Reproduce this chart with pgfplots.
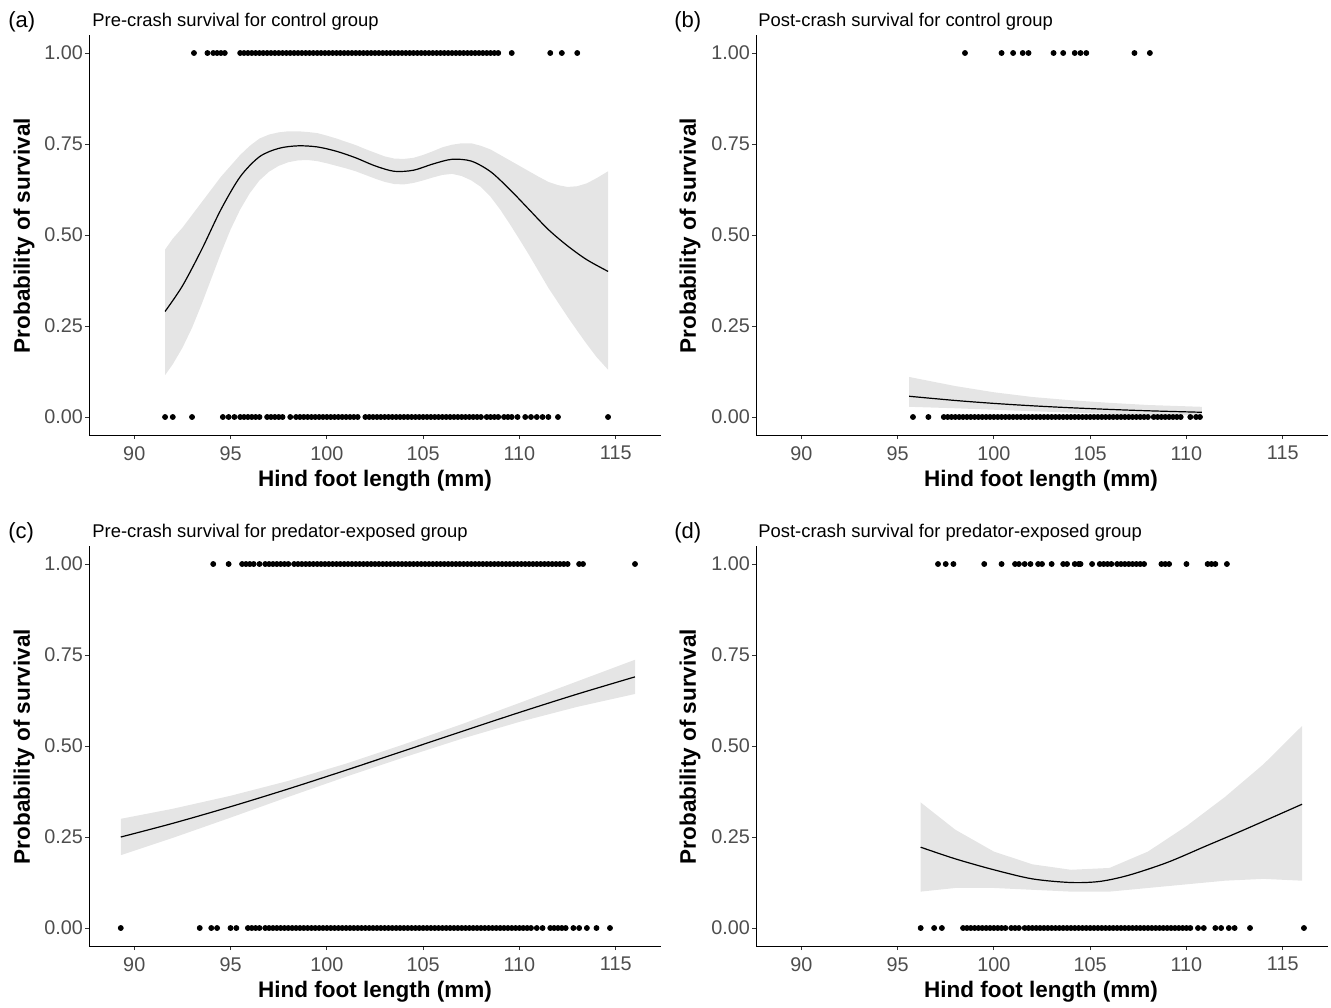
\documentclass[border=0pt]{standalone}
\usepackage{fontspec}
\setmainfont{Liberation Sans}
\usepackage{pgfplots}
\pgfplotsset{compat=1.18}

\definecolor{ribbon}{HTML}{E5E5E5}
\definecolor{ticktext}{HTML}{4D4D4D}

\pgfplotsset{
  panel/.style={
    scale only axis, width=286pt, height=200.2pt,
    xmin=87.65, xmax=117.35, ymin=-0.05, ymax=1.05,
    axis lines*=left,
    axis line style={black, line width=0.5pt},
    xtick={90,95,...,115}, ytick={0,0.25,0.5,0.75,1},
    tick align=outside, major tick length=2pt,
    tick style={black!80, line width=0.5pt},
    ticklabel style={font=\fontsize{9.9}{11}\selectfont, text=ticktext},
    yticklabel style={xshift=2.5pt, /pgf/number format/.cd, fixed, fixed zerofill, precision=2},
    /pgf/number format/assume math mode=true,
    clip=false,
  },
  dots/.style={only marks, mark=*, mark size=1.25pt, black},
  fit/.style={black, line width=0.6pt, smooth},
  band/.style={fill=ribbon, draw=none},
}

\newcommand{\lab}{\fontsize{11.25}{13}\selectfont\bfseries}
\newcommand{\ttl}{\fontsize{9.2}{11}\selectfont}
\newcommand{\tag}{\fontsize{11}{13}\selectfont}

\begin{document}
\begin{tikzpicture}
\useasboundingbox (0,0) rectangle (665.5pt,-503.5pt);

% ---------- (a) pre-crash, control
\begin{axis}[panel, at={(44.5pt,-217.6pt)}, anchor=south west]
\addplot[band] coordinates {
 (91.6,0.46) (92.0,0.49) (92.5,0.52) (93.0,0.555) (93.5,0.59) (94.0,0.625) (94.5,0.66)
 (95.0,0.69) (95.5,0.72) (96.0,0.745) (96.5,0.765) (97.0,0.776) (97.5,0.782) (98.0,0.785)
 (98.5,0.785) (99.0,0.783) (99.5,0.78) (100.0,0.773) (100.5,0.765) (101.0,0.756)
 (101.5,0.747) (102.0,0.736) (102.5,0.726) (103.0,0.716) (103.5,0.71) (104.0,0.709)
 (104.5,0.712) (105.0,0.72) (105.5,0.73) (106.0,0.741) (106.5,0.748) (107.0,0.752)
 (107.5,0.752) (108.0,0.745) (108.5,0.735) (109.0,0.72) (109.5,0.705) (110.0,0.69)
 (110.5,0.675) (111.0,0.66) (111.5,0.646) (112.0,0.637) (112.5,0.632) (113.0,0.634)
 (113.5,0.642) (114.0,0.656) (114.6,0.675)
 (114.6,0.13) (114.0,0.165) (113.5,0.20) (113.0,0.237) (112.5,0.275) (112.0,0.315)
 (111.5,0.355) (111.0,0.40) (110.5,0.445) (110.0,0.488) (109.5,0.53) (109.0,0.57)
 (108.5,0.605) (108.0,0.632) (107.5,0.65) (107.0,0.662) (106.5,0.668) (106.0,0.665)
 (105.5,0.658) (105.0,0.65) (104.5,0.643) (104.0,0.639) (103.5,0.64) (103.0,0.646)
 (102.5,0.655) (102.0,0.665) (101.5,0.675) (101.0,0.683) (100.5,0.69) (100.0,0.697)
 (99.5,0.703) (99.0,0.706) (98.5,0.705) (98.0,0.70) (97.5,0.69) (97.0,0.674)
 (96.5,0.65) (96.0,0.615) (95.5,0.57) (95.0,0.515) (94.5,0.45) (94.0,0.38)
 (93.5,0.31) (93.0,0.245) (92.5,0.19) (92.0,0.145) (91.6,0.115)} -- cycle;
\addplot[fit] coordinates {
 (91.6,0.29) (92.5,0.36) (93.5,0.46) (94.5,0.57) (95.5,0.66) (96.5,0.715) (97.5,0.738)
 (98.5,0.745) (99.5,0.742) (100.5,0.73) (101.5,0.712) (102.5,0.69) (103.5,0.675)
 (104.5,0.678) (105.5,0.695) (106.5,0.708) (107.5,0.703) (108.5,0.674) (109.5,0.625)
 (110.5,0.57) (111.5,0.515) (112.5,0.47) (113.5,0.432) (114.6,0.40)};
\addplot[dots] coordinates {
 (93.1,1) (93.8,1) (94.1,1) (94.3,1) (94.5,1) (94.7,1)
 (95.5,1) (95.7,1) (95.9,1) (96.1,1) (96.3,1) (96.5,1) (96.7,1) (96.9,1) (97.1,1) (97.3,1)
 (97.5,1) (97.7,1) (97.9,1) (98.1,1) (98.3,1) (98.5,1) (98.7,1) (98.9,1) (99.1,1) (99.3,1)
 (99.5,1) (99.7,1) (99.9,1) (100.1,1) (100.3,1) (100.5,1) (100.7,1) (100.9,1) (101.1,1)
 (101.3,1) (101.5,1) (101.7,1) (101.9,1) (102.1,1) (102.3,1) (102.5,1) (102.7,1) (102.9,1)
 (103.1,1) (103.3,1) (103.5,1) (103.7,1) (103.9,1) (104.1,1) (104.3,1) (104.5,1) (104.7,1)
 (104.9,1) (105.1,1) (105.3,1) (105.5,1) (105.7,1) (105.9,1) (106.1,1) (106.3,1) (106.5,1)
 (106.7,1) (106.9,1) (107.1,1) (107.3,1) (107.5,1) (107.7,1) (107.9,1) (108.1,1) (108.3,1)
 (108.5,1) (108.7,1) (108.9,1) (109.6,1) (111.6,1) (112.2,1) (113.0,1)};
\addplot[dots] coordinates {
 (91.6,0) (92.0,0) (93.0,0) (94.6,0) (94.9,0) (95.2,0) (95.5,0) (95.7,0) (95.9,0) (96.1,0)
 (96.3,0) (96.5,0) (96.9,0) (97.1,0) (97.3,0) (97.5,0) (97.7,0) (98.1,0)
 (98.4,0) (98.6,0) (98.8,0) (99.0,0) (99.2,0) (99.4,0) (99.6,0) (99.8,0) (100.0,0) (100.2,0)
 (100.4,0) (100.6,0) (100.8,0) (101.0,0) (101.2,0) (101.4,0) (101.6,0)
 (102.0,0) (102.2,0) (102.4,0) (102.6,0) (102.8,0) (103.0,0) (103.2,0) (103.4,0) (103.6,0)
 (103.8,0) (104.0,0) (104.2,0) (104.4,0) (104.6,0) (104.8,0) (105.0,0) (105.2,0) (105.4,0)
 (105.6,0) (105.8,0) (106.0,0) (106.2,0) (106.4,0) (106.6,0) (106.8,0) (107.0,0) (107.2,0)
 (107.4,0) (107.6,0) (107.8,0) (108.0,0)
 (108.3,0) (108.5,0) (108.7,0) (108.9,0) (109.2,0) (109.4,0) (109.6,0) (109.9,0) (110.3,0)
 (110.6,0) (110.9,0) (111.2,0) (111.5,0) (112.0,0) (114.6,0)};
\end{axis}

% ---------- (b) post-crash, control
\begin{axis}[panel, at={(378pt,-217.6pt)}, anchor=south west]
\addplot[band] coordinates {
 (95.6,0.11) (98,0.085) (100,0.068) (102,0.055) (104,0.046) (106,0.039) (108,0.033) (110.8,0.028)
 (110.8,0.004) (108,0.006) (106,0.009) (104,0.012) (102,0.016) (100,0.02) (98,0.024) (95.6,0.028)} -- cycle;
\addplot[fit] coordinates {
 (95.6,0.057) (98,0.0454) (100,0.0374) (102,0.0308) (104,0.0254) (106,0.0209) (108,0.0171) (110.8,0.013)};
\addplot[dots] coordinates {
 (98.5,1) (100.4,1) (101.0,1) (101.5,1) (101.8,1) (103.1,1) (103.6,1) (104.2,1) (104.5,1)
 (104.8,1) (107.3,1) (108.1,1)};
\addplot[dots] coordinates {
 (95.8,0) (96.6,0) (97.4,0) (97.6,0) (97.8,0) (98.0,0) (98.2,0) (98.4,0) (98.6,0) (98.8,0)
 (99.0,0) (99.2,0) (99.4,0) (99.6,0) (99.8,0) (100.0,0) (100.2,0) (100.4,0) (100.6,0)
 (100.8,0) (101.0,0) (101.2,0) (101.4,0) (101.6,0) (101.8,0) (102.0,0) (102.2,0) (102.4,0)
 (102.6,0) (102.8,0) (103.0,0) (103.2,0) (103.4,0) (103.6,0) (103.8,0) (104.0,0) (104.2,0)
 (104.4,0) (104.6,0) (104.8,0) (105.0,0) (105.2,0) (105.4,0) (105.6,0) (105.8,0) (106.0,0)
 (106.2,0) (106.4,0) (106.6,0) (106.8,0) (107.0,0) (107.2,0) (107.4,0) (107.6,0) (107.8,0)
 (108.0,0) (108.3,0) (108.5,0) (108.7,0) (108.9,0) (109.1,0) (109.3,0) (109.5,0) (109.7,0)
 (110.2,0) (110.5,0) (110.7,0)};
\end{axis}

% ---------- (c) pre-crash, predator-exposed
\begin{axis}[panel, at={(44.5pt,-473.1pt)}, anchor=south west]
\addplot[band] coordinates {
 (89.3,0.300) (92,0.3276) (95,0.3633) (98,0.4042) (101,0.4517) (104,0.5047) (107,0.5599)
 (110,0.6183) (113,0.6776) (116,0.737)
 (116,0.643) (113,0.6076) (110,0.5663) (107,0.5199) (104,0.4687) (101,0.4157) (98,0.3602)
 (95,0.3033) (92,0.2476) (89.3,0.200)} -- cycle;
\addplot[fit] coordinates {
 (89.3,0.250) (92,0.2876) (95,0.3333) (98,0.3822) (101,0.4337) (104,0.4867) (107,0.5399)
 (110,0.5923) (113,0.6426) (116,0.690)};
\addplot[dots] coordinates {
 (94.1,1) (94.9,1) (95.6,1) (95.8,1) (96.0,1) (96.2,1) (96.5,1) (96.8,1) (97.0,1) (97.2,1)
 (97.4,1) (97.6,1) (97.8,1) (98.0,1)
 (98.3,1) (98.5,1) (98.7,1) (98.9,1) (99.1,1) (99.3,1) (99.5,1) (99.7,1) (99.9,1) (100.1,1)
 (100.3,1) (100.5,1) (100.7,1) (100.9,1) (101.1,1) (101.3,1) (101.5,1) (101.7,1) (101.9,1)
 (102.1,1) (102.3,1) (102.5,1) (102.7,1) (102.9,1) (103.1,1) (103.3,1) (103.5,1) (103.7,1)
 (103.9,1) (104.1,1) (104.3,1) (104.5,1) (104.7,1) (104.9,1) (105.1,1) (105.3,1) (105.5,1)
 (105.7,1) (105.9,1) (106.1,1) (106.3,1) (106.5,1) (106.7,1) (106.9,1) (107.1,1) (107.3,1)
 (107.5,1) (107.7,1) (107.9,1) (108.1,1) (108.3,1) (108.5,1) (108.7,1) (108.9,1) (109.1,1)
 (109.3,1) (109.5,1) (109.7,1) (109.9,1) (110.1,1) (110.3,1) (110.5,1)
 (110.7,1) (110.9,1) (111.1,1) (111.3,1) (111.5,1) (111.7,1) (111.9,1) (112.1,1) (112.3,1)
 (112.5,1) (113.1,1) (113.3,1) (116.0,1)};
\addplot[dots] coordinates {
 (89.3,0) (93.4,0) (94.0,0) (94.3,0) (95.0,0) (95.3,0) (95.9,0) (96.1,0) (96.3,0) (96.5,0)
 (96.8,0) (97.0,0) (97.2,0) (97.4,0) (97.6,0) (97.8,0) (98.0,0) (98.2,0) (98.4,0) (98.6,0)
 (98.8,0) (99.0,0) (99.2,0) (99.4,0) (99.6,0) (99.8,0) (100.0,0) (100.2,0) (100.4,0)
 (100.6,0) (100.8,0) (101.0,0) (101.2,0) (101.4,0) (101.6,0) (101.8,0) (102.0,0) (102.2,0)
 (102.4,0) (102.6,0) (102.8,0) (103.0,0) (103.2,0) (103.4,0) (103.6,0) (103.8,0) (104.0,0)
 (104.2,0) (104.4,0) (104.6,0) (104.8,0) (105.0,0) (105.2,0) (105.4,0) (105.6,0) (105.8,0)
 (106.0,0) (106.2,0) (106.4,0) (106.6,0) (106.8,0) (107.0,0) (107.2,0) (107.4,0) (107.6,0)
 (107.8,0) (108.0,0) (108.2,0) (108.4,0) (108.6,0) (108.8,0) (109.0,0) (109.2,0) (109.4,0)
 (109.6,0) (109.8,0) (110.0,0) (110.2,0) (110.4,0) (110.6,0)
 (110.9,0) (111.2,0) (111.6,0) (111.8,0) (112.0,0) (112.2,0) (112.4,0) (112.8,0) (113.1,0)
 (113.5,0) (114.0,0) (114.7,0)};
\end{axis}

% ---------- (d) post-crash, predator-exposed
\begin{axis}[panel, at={(378pt,-473.1pt)}, anchor=south west]
\addplot[band] coordinates {
 (96.2,0.345) (98,0.27) (100,0.21) (102,0.175) (104,0.16) (106,0.165) (108,0.21) (110,0.28)
 (112,0.36) (114,0.45) (116,0.555)
 (116,0.13) (114,0.135) (112,0.13) (110,0.12) (108,0.11) (106,0.10) (104,0.10) (102,0.105)
 (100,0.11) (98,0.11) (96.2,0.10)} -- cycle;
\addplot[fit] coordinates {
 (96.2,0.222) (98,0.19) (100,0.16) (102,0.135) (104,0.125) (105.5,0.128) (107,0.145)
 (109,0.18) (111,0.225) (113,0.27) (116,0.34)};
\addplot[dots] coordinates {
 (97.1,1) (97.5,1) (97.9,1) (99.5,1) (100.4,1) (101.1,1) (101.3,1) (101.6,1) (101.9,1)
 (102.3,1) (102.5,1) (103.0,1) (103.6,1) (103.8,1) (104.2,1) (104.4,1) (104.5,1) (105.1,1)
 (105.5,1) (105.7,1) (105.9,1) (106.1,1) (106.4,1) (106.6,1) (106.8,1) (107.0,1) (107.2,1)
 (107.4,1) (107.6,1) (107.8,1) (108.7,1) (108.9,1) (109.1,1) (110.0,1) (111.1,1) (111.3,1)
 (111.5,1) (112.1,1)};
\addplot[dots] coordinates {
 (96.2,0) (96.9,0) (97.3,0) (98.4,0) (98.6,0) (98.8,0) (99.0,0) (99.2,0) (99.4,0) (99.6,0)
 (99.8,0) (100.0,0) (100.2,0) (100.4,0) (100.6,0) (100.9,0) (101.1,0) (101.3,0) (101.6,0)
 (101.8,0) (102.0,0) (102.2,0) (102.4,0) (102.6,0) (102.8,0) (103.0,0) (103.2,0) (103.4,0)
 (103.6,0) (103.8,0) (104.0,0) (104.2,0) (104.4,0) (104.6,0) (104.8,0) (105.0,0) (105.2,0)
 (105.4,0) (105.6,0) (105.8,0) (106.0,0) (106.2,0) (106.4,0) (106.6,0) (106.8,0) (107.0,0)
 (107.2,0) (107.4,0) (107.6,0) (107.8,0) (108.0,0) (108.2,0) (108.4,0) (108.6,0) (108.8,0)
 (109.0,0) (109.2,0) (109.4,0) (109.6,0) (109.8,0) (110.0,0) (110.2,0)
 (110.6,0) (110.9,0) (111.5,0) (111.8,0) (112.2,0) (112.5,0) (113.3,0) (116.1,0)};
\end{axis}

% ---------- titles, tags, axis labels
\foreach \dx/\dy/\t/\s in {0/0/a/Pre-crash survival for control group,
                           333/0/b/Post-crash survival for control group,
                           0/255.5/c/Pre-crash survival for predator-exposed group,
                           333/255.5/d/Post-crash survival for predator-exposed group}{
  \node[anchor=base west, inner sep=0pt, font=\tag] at (4pt+\dx pt,-13.5pt-\dy pt) {(\t)};
  \node[anchor=base west, inner sep=0pt, font=\ttl] at (46pt+\dx pt,-13.35pt-\dy pt) {\s};
  \node[font=\lab] at (187.5pt+\dx pt,-240.5pt-\dy pt) {Hind foot length (mm)};
  \node[font=\lab, rotate=90] at (12pt+\dx pt,-117.75pt-\dy pt) {Probability of survival};
}
\end{tikzpicture}
\end{document}
